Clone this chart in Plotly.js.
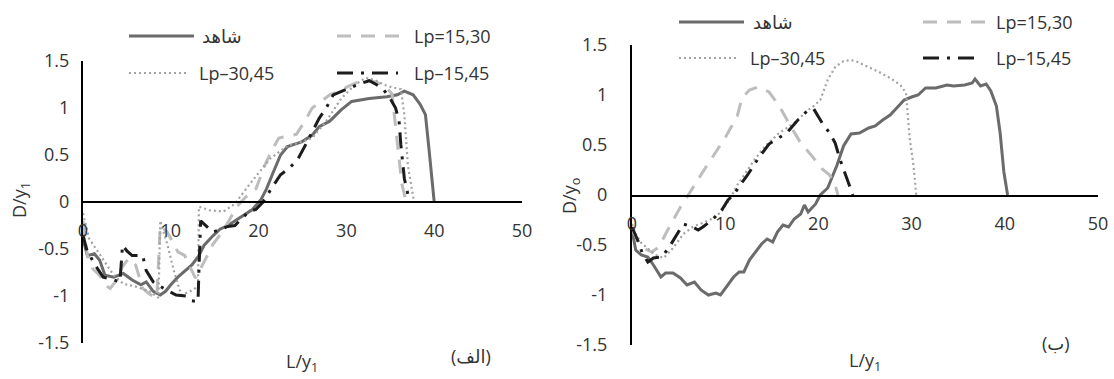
<!DOCTYPE html>
<html>
<head>
<meta charset="utf-8">
<script src="https://cdn.plot.ly/plotly-3.0.1.min.js"></script>
<style>html,body{margin:0;padding:0;background:#fff;}#chart{width:1114px;height:379px;}</style>
</head>
<body>
<div id="chart"></div>
<script>
// ---------- DATA ----------
// Panel (الف)
const ctrlA_x = [0,0.5,1.3,1.9,2.5,3.5,4.6,5.6,6.6,7.2,8,8.8,9.4,10,10.8,11.6,12.4,13.2,13.8,14.8,15.6,16.5,17.3,18.5,19.3,20.3,20.9,21.6,22.5,23.3,24.9,26.1,26.9,28.1,29.4,30.6,32.6,34.6,35.8,36.6,37.6,38.4,39,39.4,39.8,40];
const ctrlA_y = [-0.39,-0.57,-0.55,-0.62,-0.78,-0.8,-0.76,-0.83,-0.88,-0.85,-0.95,-0.99,-0.95,-0.88,-0.8,-0.74,-0.67,-0.57,-0.46,-0.36,-0.29,-0.25,-0.2,-0.13,-0.08,0.03,0.14,0.3,0.5,0.59,0.64,0.71,0.8,0.86,0.98,1.07,1.1,1.12,1.14,1.18,1.14,1.04,0.93,0.57,0.14,0];

const lp1530A_x = [0,0.5,1.1,1.9,2.5,3.1,4,4.4,5.2,6,6.8,7.6,8.4,8.8,9.6,10.8,11.6,12.8,14,14.8,15.6,16.5,17.5,18.5,19.7,20.7,21.5,22.3,23.3,24.3,25.2,26.1,27,28.1,29.2,30.2,31.2,32.2,33.2,34.2,35.2,35.5,35.9,36.3,36.8];
const lp1530A_y = [-0.2,-0.57,-0.71,-0.78,-0.88,-0.92,-0.81,-0.7,-0.6,-0.67,-0.92,-0.98,-1.02,-0.25,-0.32,-0.53,-0.57,-0.81,-0.6,-0.45,-0.35,-0.22,-0.05,0.05,0.14,0.39,0.55,0.68,0.7,0.72,0.85,1.0,1.06,1.14,1.18,1.23,1.27,1.3,1.28,1.25,1.15,0.9,0.55,0.2,0];

const lp3045A_x = [0,0.7,1.5,2.7,3.5,4.6,6,7.6,8.6,8.8,9.6,10.4,11.2,12.2,13.1,13.2,14.5,16,17.3,18.9,20.5,21.3,23.3,24.9,26.1,27.7,29.4,31,32.2,33.2,34.2,35.2,36.2,36.6,37,37.4,37.7];
const lp3045A_y = [-0.12,-0.39,-0.5,-0.67,-0.78,-0.87,-0.9,-0.95,-1.02,-0.2,-0.45,-0.75,-0.99,-0.95,-0.9,-0.05,-0.09,-0.1,-0.02,0.18,0.375,0.46,0.6,0.64,0.68,0.86,1.1,1.25,1.32,1.3,1.25,1.22,1.2,0.93,0.39,0.14,0];

const lp1545A_x = [0,0.4,1.3,2.3,3.2,4.2,4.4,4.5,5,5.6,6.8,7.2,8,9.2,10.6,11.8,12.4,13.1,13.2,13.4,14.8,16.5,17.3,18.9,19.7,20.5,21.5,22.5,23.5,24.5,25.3,26.1,26.9,27.7,28.5,29.5,30.5,31.6,32.6,33.4,34.2,35,35.6,36,36.2,36.6,37.2];
const lp1545A_y = [-0.35,-0.5,-0.66,-0.8,-0.82,-0.85,-0.6,-0.46,-0.52,-0.57,-0.57,-0.73,-0.85,-0.92,-0.99,-1.0,-1.05,-1.06,-0.74,-0.2,-0.32,-0.26,-0.25,-0.1,-0.08,0,0.15,0.29,0.36,0.46,0.6,0.75,0.89,1.0,1.14,1.18,1.22,1.26,1.29,1.25,1.2,1.1,1.0,0.86,0.61,0.25,0];

// Panel (ب)
const ctrlB_x = [0,0.4,1,1.7,2.3,3.1,3.6,4.4,5.2,5.9,6.7,7.4,8.2,9,9.5,10.1,10.9,11.5,12,12.6,13,13.9,14.5,15.1,15.6,16.2,16.8,17.4,18.1,18.5,18.9,19.7,20.2,21,22,22.7,23.5,24.4,25.4,26.1,26.9,27.7,28.4,29.2,30,30.7,31.5,32.6,33.8,34.5,35.7,36.5,36.8,37.4,38,38.5,39.1,39.5,39.9,40.3];
const ctrlB_y = [-0.35,-0.55,-0.6,-0.62,-0.7,-0.82,-0.78,-0.78,-0.83,-0.9,-0.87,-0.95,-1.0,-0.98,-1.0,-0.92,-0.82,-0.77,-0.77,-0.65,-0.6,-0.49,-0.44,-0.47,-0.37,-0.3,-0.32,-0.24,-0.19,-0.1,-0.17,-0.09,0,0.07,0.3,0.49,0.61,0.62,0.67,0.69,0.75,0.8,0.87,0.95,0.98,1.0,1.07,1.07,1.1,1.09,1.1,1.12,1.16,1.09,1.11,1.04,0.89,0.62,0.23,0];

const lp1530B_x = [0,1,2.1,2.9,3.6,4.4,5.2,5.9,6.7,7.8,9,10.1,11.3,11.8,12.6,13.5,14.7,15.8,17,18.1,19.3,20.4,21.2,21.8,22.1];
const lp1530B_y = [-0.35,-0.52,-0.57,-0.52,-0.39,-0.25,-0.12,-0.02,0.1,0.26,0.43,0.59,0.79,0.97,1.05,1.08,1.03,0.89,0.69,0.52,0.39,0.26,0.2,0.1,0];

const lp3045B_x = [0,0.4,1,2.5,3.4,4.4,5.5,6.5,7.8,9,9.7,10.5,11.3,12,13.2,14.3,15.8,17.4,18.9,19.5,20.2,21,21.8,22.7,23.5,24.2,25.4,26.5,27.7,28.8,29.4,29.6,29.8,30.2,30.5];
const lp3045B_y = [-0.29,-0.39,-0.48,-0.6,-0.63,-0.53,-0.39,-0.32,-0.27,-0.22,-0.15,-0.04,0.1,0.2,0.36,0.49,0.62,0.72,0.85,0.89,0.95,1.15,1.28,1.34,1.35,1.33,1.28,1.23,1.17,1.1,1.02,0.82,0.56,0.3,0];

const lp1545B_x = [0,0.6,1.1,1.7,2.3,3.2,4,4.8,5.5,6.5,7.1,7.6,8.6,9.7,10.3,10.9,11.6,12.4,13.5,14.7,15.5,16.6,17.8,18.9,19.5,20.4,21.2,21.8,22.3,22.9,23.3,23.7];
const lp1545B_y = [-0.32,-0.45,-0.58,-0.67,-0.63,-0.62,-0.52,-0.39,-0.29,-0.32,-0.35,-0.32,-0.25,-0.14,-0.05,0,0.1,0.2,0.36,0.51,0.56,0.62,0.75,0.85,0.86,0.72,0.62,0.52,0.36,0.2,0.1,0];

// Labels
const seriesNames = ['شاهد', 'Lp=15,30', 'Lp–30,45', 'Lp–15,45'];
const xTickVals = [0,10,20,30,40,50];
const xTickText = ['0','10','20','30','40','50'];
const yTickVals = [-1.5,-1,-0.5,0,0.5,1,1.5];
const yTickText = ['-1.5','-1','-0.5','0','0.5','1','1.5'];
const panelLabels = ['(الف)', '(ب)'];

// ---------- STYLE ----------
const W = 1114, H = 379;
const px = v => v / W;
const py = v => 1 - v / H;
const FONT = 'Open Sans, Noto Sans, DejaVu Sans, sans-serif';
const TXT = '#333333';
const styles = [
  {color:'#6b6b6b', width:3, dash:'solid'},
  {color:'#bdbdbd', width:3, dash:'14px,10px'},
  {color:'#a3a3a3', width:2.2, dash:'2px,3px'},
  {color:'#1c1c1c', width:3, dash:'16px,8px,3px,8px'}
];

function tr(x, y, i, xa, ya) {
  return {x:x, y:y, type:'scatter', mode:'lines', xaxis:xa, yaxis:ya,
          line:{color:styles[i].color, width:styles[i].width, dash:styles[i].dash},
          name:seriesNames[i], showlegend:false, hoverinfo:'skip'};
}

const data = [
  tr(ctrlA_x, ctrlA_y, 0, 'x', 'y'),
  tr(lp1530A_x, lp1530A_y, 1, 'x', 'y'),
  tr(lp3045A_x, lp3045A_y, 2, 'x', 'y'),
  tr(lp1545A_x, lp1545A_y, 3, 'x', 'y'),
  tr(ctrlB_x, ctrlB_y, 0, 'x2', 'y2'),
  tr(lp1530B_x, lp1530B_y, 1, 'x2', 'y2'),
  tr(lp3045B_x, lp3045B_y, 2, 'x2', 'y2'),
  tr(lp1545B_x, lp1545B_y, 3, 'x2', 'y2')
];

function xax(d0, d1, pos, lw) {
  return {domain:[px(d0), px(d1)], range:[0,50], anchor:'free', position:py(pos),
          showline:true, linecolor:'#000', linewidth:lw, showgrid:false, zeroline:false,
          ticks:'', tickmode:'array', tickvals:xTickVals, ticktext:xTickText,
          tickfont:{family:FONT, size:18, color:TXT}, ticklabelstandoff:12, fixedrange:true};
}
function yax(d0, d1, anchor, standoff) {
  return {domain:[py(d1), py(d0)], range:[-1.5,1.5], anchor:anchor,
          showline:true, linecolor:'#000', linewidth:2, showgrid:false, zeroline:false,
          ticks:'', tickmode:'array', tickvals:yTickVals, ticktext:yTickText,
          tickfont:{family:FONT, size:18, color:TXT}, ticklabelstandoff:standoff, fixedrange:true};
}

// Legend (drawn as samples + text)
const legendRows = [
  // [sample x0, sample x1, y, text x, style index]
  [129,194,36,200,0],[337,402,36,412,1],[129,188,73,197,2],[337,398,73,412,3],
  [679,744,22,751,0],[923,986,22,994,1],[679,737,58,748,2],[923,975,58,994,3]
];
const shapes = legendRows.map(r => ({type:'line', xref:'paper', yref:'paper',
  x0:px(r[0]), x1:px(r[1]), y0:py(r[2]), y1:py(r[2]),
  line:{color:styles[r[4]].color, width:styles[r[4]].width, dash:styles[r[4]].dash}}));

const ann = legendRows.map(r => ({xref:'paper', yref:'paper', x:px(r[3]), y:py(r[2]),
  xanchor:'left', yanchor:'middle', showarrow:false, text:seriesNames[r[4]],
  font:{family:FONT, size:18, color:TXT}}));

function note(text, x, y, angle, size) {
  return {xref:'paper', yref:'paper', x:px(x), y:py(y), xanchor:'center', yanchor:'middle',
          showarrow:false, text:text, textangle:angle||0, font:{family:FONT, size:size||18, color:TXT}};
}
ann.push(note('D/y<sub>1</sub>', 20, 200, -90));
ann.push(note('L/y<sub>1</sub>', 302, 362));
ann.push(note(panelLabels[0], 471, 356));
ann.push(note('D/y<sub>o</sub>', 570, 196, -90));
ann.push(note('L/y<sub>1</sub>', 865, 361));
ann.push(note(panelLabels[1], 1056, 343));

const layout = {
  width:W, height:H, margin:{l:0, r:0, t:0, b:0},
  paper_bgcolor:'#fff', plot_bgcolor:'rgba(0,0,0,0)',
  font:{family:FONT, color:TXT},
  showlegend:false,
  xaxis: xax(83, 522, 202, 2),
  yaxis: yax(61, 343, 'x', 8),
  xaxis2: xax(632, 1098, 195, 1.5),
  yaxis2: yax(45, 345, 'x2', 19),
  shapes: shapes,
  annotations: ann
};

Plotly.newPlot('chart', data, layout, {staticPlot:true, displayModeBar:false});
</script>
</body>
</html>
